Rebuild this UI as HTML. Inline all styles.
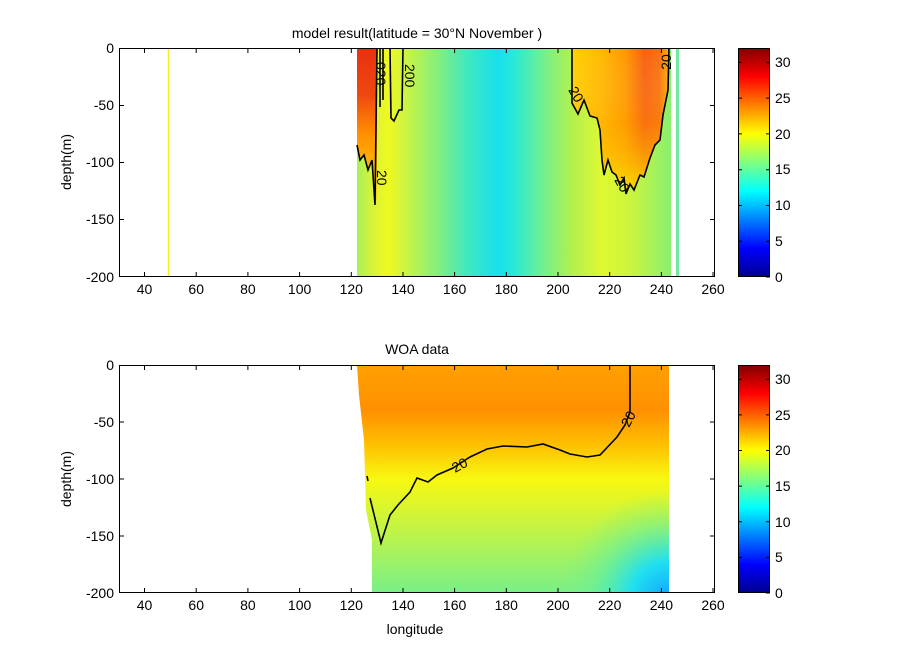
<!DOCTYPE html>
<html><head><meta charset="utf-8"><style>
body{margin:0;background:#fff;}
svg{display:block;font-family:"Liberation Sans",Arial,sans-serif;}
</style></head><body>
<svg width="915" height="667" viewBox="0 0 915 667" xmlns="http://www.w3.org/2000/svg">
<defs>
<linearGradient id="jet" x1="0" y1="1" x2="0" y2="0">
<stop offset="0" stop-color="#00008f"/><stop offset="0.125" stop-color="#0000ff"/>
<stop offset="0.375" stop-color="#00ffff"/><stop offset="0.625" stop-color="#ffff00"/>
<stop offset="0.875" stop-color="#ff0000"/><stop offset="1" stop-color="#800000"/>
</linearGradient>
<linearGradient id="topbase" gradientUnits="userSpaceOnUse" x1="357" y1="0" x2="671" y2="0">
<stop offset="0" stop-color="#a8f058"/><stop offset="0.05" stop-color="#d8f438"/>
<stop offset="0.1" stop-color="#f0f820"/><stop offset="0.15" stop-color="#d0f440"/>
<stop offset="0.25" stop-color="#88f078"/><stop offset="0.35" stop-color="#40e8c0"/>
<stop offset="0.45" stop-color="#18e0ec"/><stop offset="0.5" stop-color="#28e8d8"/>
<stop offset="0.58" stop-color="#68f098"/><stop offset="0.68" stop-color="#b0f050"/>
<stop offset="0.78" stop-color="#e0f830"/><stop offset="0.88" stop-color="#c8f440"/>
<stop offset="1" stop-color="#88f070"/>
</linearGradient>
<linearGradient id="warmL" x1="0" y1="0" x2="0" y2="1">
<stop offset="0" stop-color="#e83010"/><stop offset="0.3" stop-color="#f04810"/><stop offset="0.55" stop-color="#ff9000"/><stop offset="1" stop-color="#f8e010"/>
</linearGradient>
<linearGradient id="warmR" gradientUnits="userSpaceOnUse" x1="572" y1="0" x2="669" y2="0">
<stop offset="0" stop-color="#ffd000"/><stop offset="0.3" stop-color="#ffb800"/>
<stop offset="0.55" stop-color="#ff9800"/><stop offset="0.75" stop-color="#f86010"/><stop offset="0.9" stop-color="#f87010"/><stop offset="1" stop-color="#ffb000"/>
</linearGradient>
<linearGradient id="warmRv" x1="0" y1="0" x2="0" y2="1">
<stop offset="0" stop-color="#fff" stop-opacity="0"/><stop offset="0.5" stop-color="#ffb000" stop-opacity="0.2"/><stop offset="1" stop-color="#f8e800" stop-opacity="0.9"/>
</linearGradient>
<linearGradient id="botv" gradientUnits="userSpaceOnUse" x1="0" y1="365" x2="0" y2="593">
<stop offset="0" stop-color="#ffa000"/><stop offset="0.2" stop-color="#ff9000"/>
<stop offset="0.35" stop-color="#ffc000"/><stop offset="0.5" stop-color="#f8f810"/>
<stop offset="0.7" stop-color="#c8f440"/><stop offset="1" stop-color="#78f088"/>
</linearGradient>
<radialGradient id="blue" gradientUnits="userSpaceOnUse" cx="669" cy="600" r="110">
<stop offset="0" stop-color="#10a0ff"/><stop offset="0.35" stop-color="#20e0f0"/><stop offset="0.7" stop-color="#60f0a0" stop-opacity="0.5"/><stop offset="1" stop-color="#80f080" stop-opacity="0"/>
</radialGradient>
<clipPath id="botclip"><path d="M357,365 L669,365 L669,593 L372,593 L372,540 L366,510 L364,440 L359,395 Z"/></clipPath>
</defs>

<rect x="119" y="48" width="596" height="229" fill="#fff"/>
<line x1="168.5" y1="48" x2="168.5" y2="277" stroke="#f8f020" stroke-width="1.5"/>
<rect x="357" y="48" width="314" height="229" fill="url(#topbase)"/>
<rect x="676" y="48" width="3" height="229" fill="#70e8a0"/>
<path d="M357,48 L377,48 L377,205 L372,160 L368,170 L364,155 L360,160 L357,145 Z" fill="url(#warmL)"/>
<path d="M572,48 L669,48 L668,90 L663,115 L660,140 L655,145 L650,158 L644,177 L640,175 L634,190 L630,184 L626,194 L624,178 L620,185 L616,175 L612,172 L608,160 L604,175 L602,160 L600,130 L597,118 L590,116 L584,100 L578,114 L572,103 Z" fill="url(#warmR)"/>
<path d="M572,48 L669,48 L668,90 L663,115 L660,140 L655,145 L650,158 L644,177 L640,175 L634,190 L630,184 L626,194 L624,178 L620,185 L616,175 L612,172 L608,160 L604,175 L602,160 L600,130 L597,118 L590,116 L584,100 L578,114 L572,103 Z" fill="url(#warmRv)"/>
<g fill="none" stroke="#000" stroke-width="1.6">
<path d="M357,145 L360,160 L364,155 L368,170 L372,160 L375,205 L377,48"/>
<path d="M380,48 L380,107 M383,48 L383,100"/>
<path d="M390,48 L391,118 L394,121 L399,110 L402,110 L403,48"/>
<path d="M572,48 L572,103 L578,114 L584,100 L590,116 L597,118 L600,130 L602,160 L604,175 L608,160 L612,172 L616,175 L620,185 L624,178 L626,194 L630,184 L634,190 L640,175 L644,177 L650,158 L655,145 L660,140 L663,115 L668,90 L669,48"/>
</g>
<g font-size="14" fill="#000">
<text transform="translate(377,170) rotate(90)">20</text>
<text transform="translate(376,62) rotate(90)">020</text>
<text transform="translate(405,64) rotate(90)">200</text>
<text transform="translate(568,90) rotate(60)">20</text>
<text transform="translate(614,180) rotate(60)">20</text>
<text transform="translate(671,62) rotate(-90)" text-anchor="middle">20</text>
</g>
<rect x="119.5" y="48.5" width="595" height="228" fill="none" stroke="#000"/>

<g clip-path="url(#botclip)">
<rect x="357" y="365" width="312" height="228" fill="url(#botv)"/>
<rect x="357" y="365" width="312" height="228" fill="url(#blue)"/>
</g>
<path d="M370,498 L381,543 L390,515 L398,505 L410,492 L417,478 L428,482 L437,475 L453,468 L470,457 L487,449 L503,446 L527,447 L543,444 L560,450 L570,454 L587,457 L600,455 L617,437 L625,425 L630,412 L630,365" fill="none" stroke="#000" stroke-width="1.6"/>
<line x1="367" y1="476" x2="368" y2="481" stroke="#000" stroke-width="1.6"/>
<g font-size="14" fill="#000">
<text transform="translate(455,473) rotate(-28)">20</text>
<text transform="translate(629,428) rotate(-62)">20</text>
</g>
<rect x="119.5" y="365.5" width="595" height="227" fill="none" stroke="#000"/>

<g stroke="#000" stroke-width="1">
<path d="M144.5,277v-5M196.2,277v-5M247.9,277v-5M299.6,277v-5M351.3,277v-5M403,277v-5M454.6,277v-5M506.3,277v-5M558,277v-5M609.7,277v-5M661.4,277v-5M713,277v-5
M144.5,48v5M196.2,48v5M247.9,48v5M299.6,48v5M351.3,48v5M403,48v5M454.6,48v5M506.3,48v5M558,48v5M609.7,48v5M661.4,48v5M713,48v5
M119,105.5h5M119,162.5h5M119,219.5h5M715,105.5h-5M715,162.5h-5M715,219.5h-5"/>
<path d="M144.5,593v-5M196.2,593v-5M247.9,593v-5M299.6,593v-5M351.3,593v-5M403,593v-5M454.6,593v-5M506.3,593v-5M558,593v-5M609.7,593v-5M661.4,593v-5M713,593v-5
M144.5,365v5M196.2,365v5M247.9,365v5M299.6,365v5M351.3,365v5M403,365v5M454.6,365v5M506.3,365v5M558,365v5M609.7,365v5M661.4,365v5M713,365v5
M119,422h5M119,479h5M119,536h5M715,422h-5M715,479h-5M715,536h-5"/>
</g>
<g font-size="14" fill="#000" text-anchor="middle">
<text x="144.5" y="294">40</text><text x="196.2" y="294">60</text><text x="247.9" y="294">80</text><text x="299.6" y="294">100</text><text x="351.3" y="294">120</text><text x="403" y="294">140</text><text x="454.6" y="294">160</text><text x="506.3" y="294">180</text><text x="558" y="294">200</text><text x="609.7" y="294">220</text><text x="661.4" y="294">240</text><text x="713" y="294">260</text>
<g transform="translate(0,316)">
<text x="144.5" y="294">40</text><text x="196.2" y="294">60</text><text x="247.9" y="294">80</text><text x="299.6" y="294">100</text><text x="351.3" y="294">120</text><text x="403" y="294">140</text><text x="454.6" y="294">160</text><text x="506.3" y="294">180</text><text x="558" y="294">200</text><text x="609.7" y="294">220</text><text x="661.4" y="294">240</text><text x="713" y="294">260</text>
</g>
<text x="417" y="38">model result(latitude = 30°N  November )</text>
<text x="417" y="354">WOA data</text>
<text x="415" y="634">longitude</text>
</g>
<g font-size="14" fill="#000" text-anchor="end">
<text x="114" y="53">0</text><text x="114" y="110">-50</text><text x="114" y="167">-100</text><text x="114" y="224">-150</text><text x="114" y="282">-200</text>
<text x="114" y="370">0</text><text x="114" y="427">-50</text><text x="114" y="484">-100</text><text x="114" y="541">-150</text><text x="114" y="598">-200</text>
</g>
<g font-size="14" fill="#000" text-anchor="middle">
<text transform="translate(71,162) rotate(-90)">depth(m)</text>
<text transform="translate(71,479) rotate(-90)">depth(m)</text>
</g>

<rect x="738" y="48" width="32" height="229" fill="url(#jet)"/>
<rect x="738.5" y="48.5" width="31" height="228" fill="none" stroke="#000"/>
<rect x="738" y="365" width="32" height="228" fill="url(#jet)"/>
<rect x="738.5" y="365.5" width="31" height="227" fill="none" stroke="#000"/>
<g stroke="#000">
<path d="M770,277h-4M770,241.2h-4M770,205.5h-4M770,169.7h-4M770,133.9h-4M770,98.1h-4M770,62.4h-4M738,241.2h4M738,205.5h4M738,169.7h4M738,133.9h4M738,98.1h4M738,62.4h4"/>
<path d="M770,593h-4M770,557.4h-4M770,521.8h-4M770,486.1h-4M770,450.5h-4M770,414.9h-4M770,379.3h-4M738,557.4h4M738,521.8h4M738,486.1h4M738,450.5h4M738,414.9h4M738,379.3h4"/>
</g>
<g font-size="14" fill="#000">
<text x="775" y="282">0</text><text x="775" y="246">5</text><text x="775" y="210">10</text><text x="775" y="174">15</text><text x="775" y="139">20</text><text x="775" y="103">25</text><text x="775" y="67">30</text>
<text x="775" y="598">0</text><text x="775" y="562">5</text><text x="775" y="527">10</text><text x="775" y="491">15</text><text x="775" y="455">20</text><text x="775" y="420">25</text><text x="775" y="384">30</text>
</g>
</svg>
</body></html>
